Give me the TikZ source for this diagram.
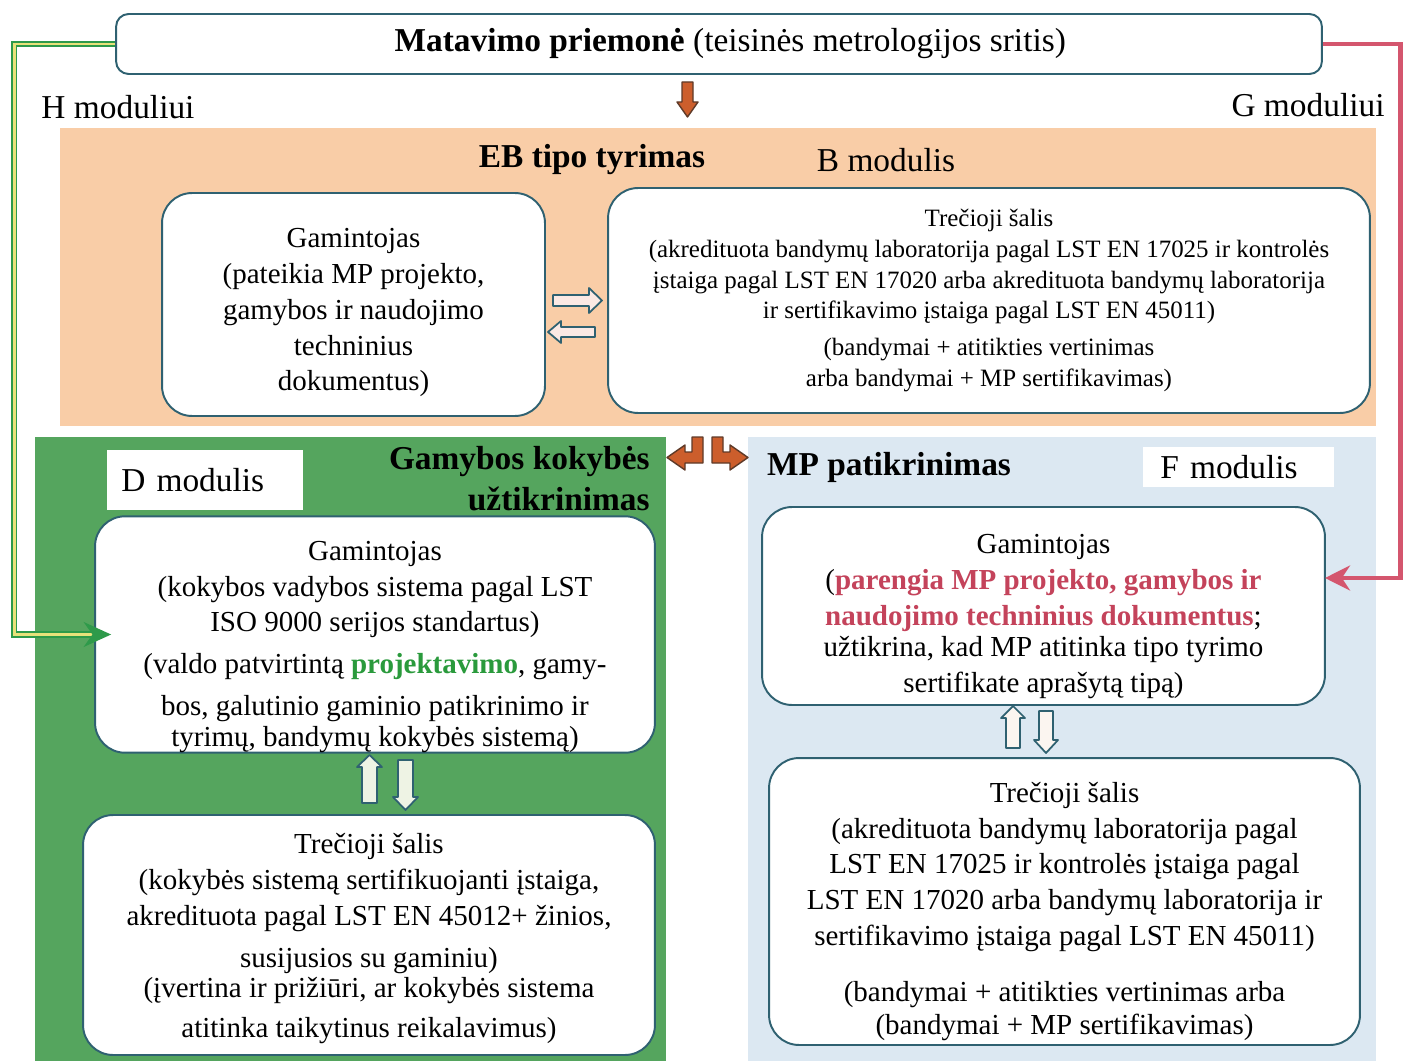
\documentclass[tikz,border=0pt]{standalone}
\usepackage{fontspec}
\setmainfont{Liberation Serif}
\usetikzlibrary{arrows.meta}
\definecolor{boxline}{HTML}{2F6171}
\definecolor{ebfill}{HTML}{F9CDA7}
\definecolor{dfill}{HTML}{55A55E}
\definecolor{ffill}{HTML}{DCE8F2}
\definecolor{arrowfill}{HTML}{CC5E2C}
\definecolor{arrowline}{HTML}{5E3A28}
\definecolor{gline}{HTML}{2E9A4A}
\definecolor{gmid}{HTML}{E8E27A}
\definecolor{rline}{HTML}{D4566E}
\definecolor{redtext}{HTML}{C4435B}
\definecolor{greentext}{HTML}{2A9A3C}
\definecolor{ebarrow}{HTML}{FBE9E4}
\definecolor{darrow}{HTML}{EEF3E4}
\definecolor{farrow}{HTML}{FBF5F0}

\tikzset{
  box/.style={draw=boxline, line width=1.1pt, fill=white, rounded corners=0.6cm, align=center, inner sep=0pt},
  titletext/.style={font=\fontsize{19}{23.2}\selectfont},
  bodytext/.style={font=\fontsize{16.5}{20.4}\selectfont},
  smalltext/.style={font=\fontsize{14.2}{17.6}\selectfont},
  tag/.style={titletext, fill=white, inner ysep=0pt, align=left},
  hollow/.style={draw=boxline, line width=1pt, line join=round},
  solidarrow/.style={fill=arrowfill, draw=arrowline, line width=0.8pt, line join=round}
}

\begin{document}
\begin{tikzpicture}[x=0.02cm, y=-0.02cm]
\fill[white] (0,0) rectangle (1403,1061);
\useasboundingbox (0,0) rectangle (1403,1061);
% panels
\fill[ebfill] (60,128) rectangle (1376,426);
\fill[dfill] (35,437) rectangle (666,1061);
\fill[ffill] (748,437) rectangle (1376,1061);

% top
\node[box, titletext, rounded corners=0.25cm, minimum width=24.12cm, minimum height=1.2cm] at (719,44) (mp) {\hspace{0.45cm}\textbf{Matavimo priemonė} (teisinės metrologijos sritis)};
\node[titletext] at (118,107) (hmod) {H moduliui};
\node[titletext] at (1308,105) (gmod) {G moduliui};

% EB tipo tyrimas
\node[titletext] at (592,160) (ebtitle) {\textbf{EB tipo tyrimas}};
\node[titletext] at (886,160) (bmod) {B modulis};
\node[box, bodytext, minimum width=7.66cm, minimum height=4.46cm] at (353.5,304.5) (ebgam)
  {\rule{0pt}{20.3pt}Gamintojas\\(pateikia MP projekto,\\gamybos ir naudojimo\\techninius\\dokumentus)};
\node[box, smalltext, minimum width=15.24cm, minimum height=4.5cm] at (989,300.5) (ebtre)
  {Trečioji šalis\\(akredituota bandymų laboratorija pagal LST EN 17025 ir kontrolės\\įstaiga pagal LST EN 17020 arba akredituota bandymų laboratorija\\ir sertifikavimo įstaiga pagal LST EN 45011)\\[3.4pt](bandymai + atitikties vertinimas\\arba bandymai + MP sertifikavimas)};

% D modulis
\node[tag, anchor=west, minimum height=1.2cm, inner xsep=0.28cm, text width=3.36cm] at (107,480) (dmod) {D modulis};
\node[titletext, align=right, anchor=east, inner sep=0pt] at (650,478.5) (dtitle) {\textbf{Gamybos kokybės}\\\textbf{užtikrinimas}};
\node[box, bodytext, minimum width=11.2cm, minimum height=4.7cm] at (375,634.5) (dgam)
  {\rule{0pt}{25pt}Gamintojas\\(kokybos vadybos sistema pagal LST\\ISO 9000 serijos standartus)\\[3.4pt](valdo patvirtintą \textcolor{greentext}{\textbf{projektavimo}}, gamy-\\[3.4pt]bos, galutinio gaminio patikrinimo ir\\[-2.8pt]tyrimų, bandymų kokybės sistemą)};
\node[box, bodytext, minimum width=11.44cm, minimum height=4.8cm] at (369,935) (dtre)
  {\rule{0pt}{15.8pt}Trečioji šalis\\(kokybės sistemą sertifikuojanti įstaiga,\\akredituota pagal LST EN 45012+ žinios,\\[3.4pt]susijusios su gaminiu)\\[-3.4pt](įvertina ir prižiūri, ar kokybės sistema\\[2.8pt]atitinka taikytinus reikalavimus)};

% F modulis
\node[titletext] at (889,467) (ftitle) {\textbf{MP patikrinimas}};
\node[tag, anchor=west, minimum height=0.8cm, inner xsep=0.34cm, text width=3.14cm] at (1143,467) (fmod) {F modulis};
\node[box, bodytext, minimum width=11.26cm, minimum height=3.96cm] at (1043.5,606) (fgam)
  {\rule{0pt}{22.7pt}Gamintojas\\(\textcolor{redtext}{\textbf{parengia MP projekto, gamybos ir}}\\\textcolor{redtext}{\textbf{naudojimo techninius dokumentus}};\\[-2.8pt]užtikrina, kad MP atitinka tipo tyrimo\\sertifikate aprašytą tipą)};
\node[box, bodytext, minimum width=11.82cm, minimum height=5.74cm] at (1064.5,901.5) (ftre)
  {\rule{0pt}{22.7pt}Trečioji šalis\\(akredituota bandymų laboratorija pagal\\LST EN 17025 ir kontrolės įstaiga pagal\\LST EN 17020 arba bandymų laboratorija ir\\sertifikavimo įstaiga pagal LST EN 45011)\\[11.4pt](bandymai + atitikties vertinimas arba\\[-1.7pt](bandymai + MP sertifikavimas)};

% H and G module lines
\coordinate (gin) at (1325,578);
\draw[draw=gline, line width=1.1pt, double=gmid, double distance=1.6pt, -{Stealth[length=0.55cm, width=0.5cm]}, shorten >=-0.34cm] (mp.west) -- ++(-101,0) |- (dgam.west);
\draw[draw=rline, line width=2.8pt, -{Stealth[length=0.5cm, width=0.5cm]}] (mp.east) -- ++(78,0) |- (gin);

% block arrows
\draw[solidarrow] (682,82) -- (693,82) -- (693,102) -- (698,102) -- (687.5,117) -- (677,102) -- (682,102) -- cycle;
\draw[solidarrow] (703,437) -- (703,463) -- (685,463) -- (685,470) -- (667,457.5) -- (685,445) -- (685,452) -- (692,452) -- (692,437) -- cycle;
\draw[solidarrow] (712,437) -- (712,463) -- (730,463) -- (730,470) -- (748,457.5) -- (730,445) -- (730,452) -- (723,452) -- (723,437) -- cycle;
\draw[hollow, fill=ebarrow] (553,295) -- (589,295) -- (589,288) -- (602,300.5) -- (589,313) -- (589,306) -- (553,306) -- cycle;
\draw[hollow, fill=ebarrow] (595,327) -- (561,327) -- (561,321) -- (548,332) -- (561,343) -- (561,337) -- (595,337) -- cycle;
\draw[hollow, fill=darrow] (362,803) -- (362,767) -- (357,767) -- (369.5,755) -- (382,767) -- (377,767) -- (377,803) -- cycle;
\draw[hollow, fill=darrow] (398,760) -- (398,797) -- (393,797) -- (405.5,810) -- (418,797) -- (413,797) -- (413,760) -- cycle;
\draw[hollow, fill=farrow] (1006,748) -- (1006,718) -- (1001,718) -- (1013,706) -- (1025,718) -- (1020,718) -- (1020,748) -- cycle;
\draw[hollow, fill=farrow] (1039,711) -- (1039,740) -- (1034,740) -- (1046,753) -- (1058,740) -- (1053,740) -- (1053,711) -- cycle;
\end{tikzpicture}
\end{document}
